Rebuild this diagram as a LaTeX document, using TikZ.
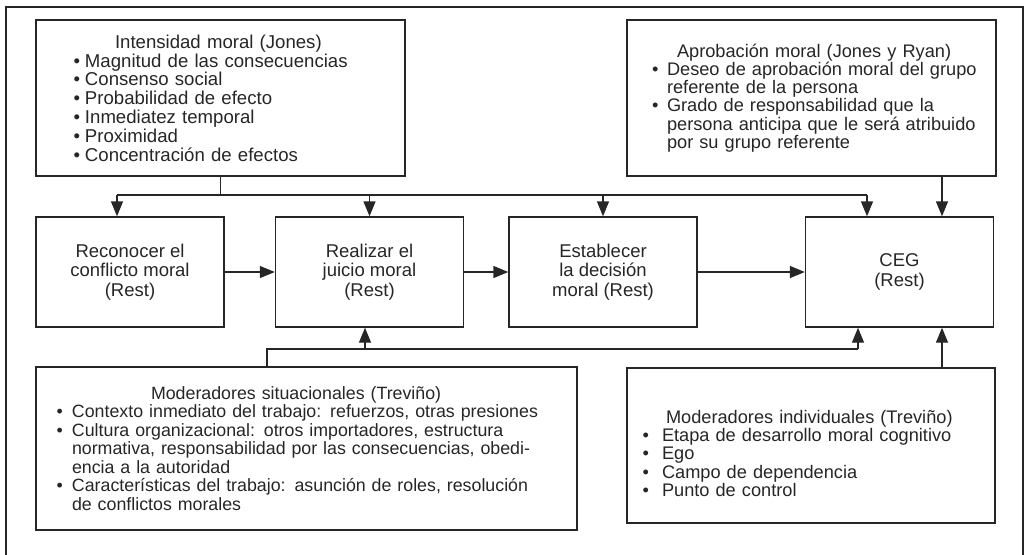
\documentclass[tikz,border=0pt]{standalone}
\usepackage{fontspec}
\setmainfont{Liberation Sans}
\usetikzlibrary{arrows.meta}
\definecolor{ink}{HTML}{262626}
\newcommand\bul[1]{\makebox[#1][l]{\textbullet}}

\begin{document}
\begin{tikzpicture}[x=.5pt,y=-.5pt,
  font=\fontsize{9.25}{9.6}\selectfont,
  box/.style={draw=ink, line width=.7pt, text=ink, inner sep=0pt,
    minimum width=94pt, minimum height=55pt, align=center},
  listbox/.style={box, text width=#1, minimum width=#1, align=left},
  arr/.style={draw=ink, line width=.7pt, -{Triangle[length=7.5pt,width=6pt]}}]
  \useasboundingbox (0,0) rectangle (1026,554);

  % outer frame, open at the bottom
  \draw [ink, line width=1.2pt] (6,570) -- (6,7) -- (1023,7) -- (1023,570);

  % top row
  \node [listbox=184.5pt, minimum height=78pt, font=\fontsize{9.3}{9.4}\selectfont]
    (inten) at (220.5,98)
    {\leftskip=18.85pt \hspace*{20.65pt}Intensidad moral (Jones)\\
      \bul{5.65pt}Magnitud de las consecuencias\\
      \bul{5.65pt}Consenso social\\
      \bul{5.65pt}Probabilidad de efecto\\
      \bul{5.65pt}Inmediatez temporal\\
      \bul{5.65pt}Proximidad\\
      \bul{5.65pt}Concentración de efectos\par};
  \node [listbox=184.5pt, minimum height=78pt, font=\fontsize{9.1}{9.15}\selectfont]
    (aprob) at (811.5,98)
    {\leftskip=12.5pt \hspace*{12.5pt}Aprobación moral (Jones y Ryan)\\
      \bul{7.5pt}Deseo de aprobación moral del grupo\\
      \hspace*{7.5pt}referente de la persona\\
      \bul{7.5pt}Grado de responsabilidad que la\\
      \hspace*{7.5pt}persona anticipa que le será atribuido\\
      \hspace*{7.5pt}por su grupo referente\par};

  % Rest's four steps
  \node [box] (recon) at (130,272) {Reconocer el\\conflicto moral\\(Rest)};
  \node [box] (juicio) at (369.5,272) {Realizar el\\juicio moral\\(Rest)};
  \node [box] (decis) at (603,272) {Establecer\\la decisión\\moral (Rest)};
  \node [box] (ceg) at (899.5,272) {CEG\\(Rest)};

  % bottom row
  \node [listbox=270.5pt, minimum height=81.5pt, font=\fontsize{8.9}{9.25}\selectfont]
    (situ) at (306.5,448.5)
    {\leftskip=10.35pt \hspace*{47.15pt}Moderadores situacionales (Treviño)\\
      \bul{7.65pt}Contexto inmediato del trabajo: refuerzos, otras presiones\\
      \bul{7.65pt}Cultura organizacional: otros importadores, estructura\\
      \hspace*{7.65pt}normativa, responsabilidad por las consecuencias, obedi-\\
      \hspace*{7.65pt}encia a la autoridad\\
      \bul{7.65pt}Características del trabajo: asunción de roles, resolución\\
      \hspace*{7.65pt}de conflictos morales\par};
  \node [listbox=184pt, minimum height=77.5pt, font=\fontsize{9.1}{9.2}\selectfont]
    (indiv) at (811,445.5)
    {\leftskip=7.85pt \hspace*{11.65pt}\rule{0pt}{14.4pt}Moderadores individuales (Treviño)\\
      \bul{9.65pt}Etapa de desarrollo moral cognitivo\\
      \bul{9.65pt}Ego\\
      \bul{9.65pt}Campo de dependencia\\
      \bul{9.65pt}Punto de control\par};

  % buses
  \coordinate (tbus) at (0,195);
  \coordinate (bbus) at (0,349);
  \coordinate (r1) at ([xshift=-6.5pt]recon.north);
  \coordinate (c1) at ([xshift=-16.25pt]ceg.north);
  \coordinate (c2) at ([xshift=21.25pt]ceg.north);
  \coordinate (j3) at ([xshift=-2.25pt]juicio.south);
  \coordinate (c3) at ([xshift=-20.75pt]ceg.south);
  \coordinate (c4) at ([xshift=21.25pt]ceg.south);
  \coordinate (s1) at ([xshift=-19.75pt]situ.north);

  \draw [ink, line width=.7pt] (inten.south) -- (inten.south |- tbus);
  \draw [ink, line width=.7pt] (r1 |- tbus) -- (c1 |- tbus);
  \foreach \t in {r1, juicio.north, decis.north, c1}
    \draw [arr] (\t |- tbus) -- (\t);
  \draw [arr] (aprob.south -| c2) -- (c2);

  \draw [ink, line width=.7pt] (s1) -- (s1 |- bbus) -- (c3 |- bbus);
  \foreach \t in {j3, c3}
    \draw [arr] (\t |- bbus) -- (\t);
  \draw [arr] (indiv.north -| c4) -- (c4);

  % horizontal flow
  \draw [arr] (recon) -- (juicio);
  \draw [arr] (juicio) -- (decis);
  \draw [arr] (decis) -- (ceg);
\end{tikzpicture}
\end{document}
